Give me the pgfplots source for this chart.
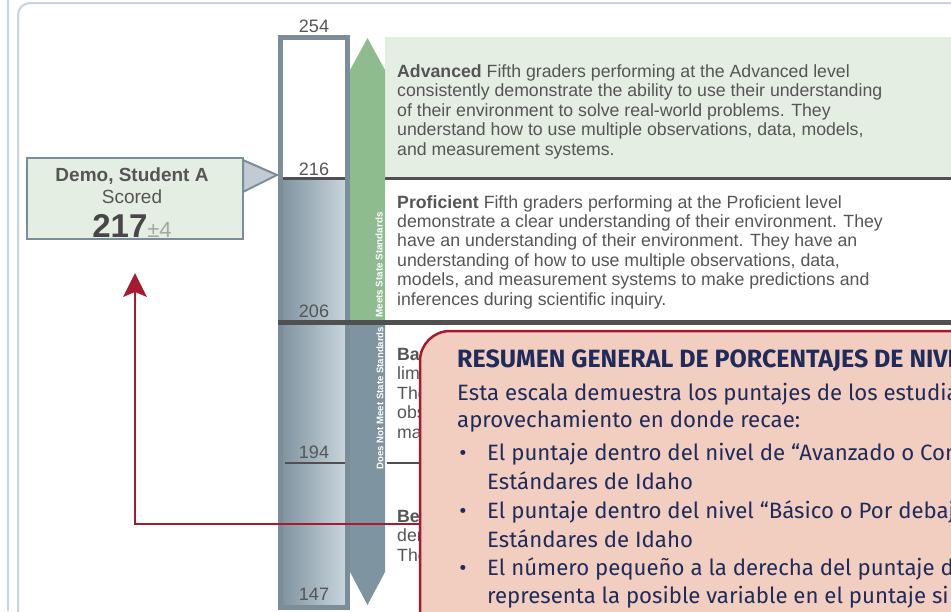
\documentclass[border=0pt]{standalone}
\usepackage{pgfplots}
\pgfplotsset{compat=1.18}
\usepackage{fontspec}
\setmainfont{Liberation Sans}
\newfontfamily\popfont{Fira Sans}
\definecolor{txt}{HTML}{555555}
\definecolor{framec}{HTML}{7B8D99}
\definecolor{advbg}{HTML}{E4EEE2}
\definecolor{arrgreen}{HTML}{8FBC8F}
\definecolor{arrgray}{HTML}{7E94A1}
\definecolor{linec}{HTML}{505050}
\definecolor{popfill}{HTML}{F2CEC0}
\definecolor{popred}{HTML}{A51C30}
\definecolor{navy}{HTML}{1F2B5B}
\definecolor{outerc}{HTML}{C9D3DB}
\definecolor{boxfill}{HTML}{E5EEE3}
\definecolor{tric}{HTML}{C2CAD3}
\definecolor{gradL}{HTML}{7F939F}
\definecolor{gradR}{HTML}{CAD6DE}
\begin{document}
\begin{tikzpicture}
\begin{axis}[scale only axis, width=951pt, height=611pt,
  xmin=0, xmax=951, ymin=0, ymax=611, y dir=reverse, hide axis, clip=false]
% outer frame
\addplot[draw=outerc, line width=2pt] coordinates {(8,0) (8,611)};
\addplot[draw=outerc, line width=2pt, rounded corners=12pt] coordinates {(18,640) (18,3) (990,3)};
% advanced band background
\addplot[fill=advbg, draw=none] coordinates {(385,37) (951,37) (951,178) (385,178)} -- cycle;
% scale bar: white upper part (254-216), shaded lower part (216-147)
\addplot[fill=white, draw=none] coordinates {(281,38) (347,38) (347,178) (281,178)} -- cycle;
\addplot[draw=none, left color=gradL, right color=gradR] coordinates {(281,178) (347,178) (347,606) (281,606)} -- cycle;
% cut lines 216 and 194
\addplot[draw=linec, line width=3pt] coordinates {(283,178) (951,178)};
\addplot[draw=linec, line width=2.2pt] coordinates {(285,463) (345,463)};
\addplot[draw=linec, line width=2.2pt] coordinates {(387,463) (951,463)};
% bar frame
\addplot[draw=framec, line width=5pt] coordinates {(280.5,37.5) (347.5,37.5) (347.5,607.5) (280.5,607.5)} -- cycle;
% arrows
\addplot[fill=arrgreen, draw=none] coordinates {(350,70) (367.5,38) (385,70) (385,322) (350,322)} -- cycle;
\addplot[fill=arrgray, draw=none] coordinates {(350,322) (385,322) (385,572) (367.5,605) (350,572)} -- cycle;
% cut line 206
\addplot[draw=linec, line width=5pt] coordinates {(278,322) (951,322)};
% scale labels
\node[anchor=base, inner sep=0, text=txt, font=\fontsize{18}{18}\selectfont] at (axis cs:314,32) {254};
\node[anchor=base, inner sep=0, text=txt, font=\fontsize{18}{18}\selectfont] at (axis cs:314,175) {216};
\node[anchor=base, inner sep=0, text=txt, font=\fontsize{18}{18}\selectfont] at (axis cs:314,317) {206};
\node[anchor=base, inner sep=0, text=txt, font=\fontsize{18}{18}\selectfont] at (axis cs:314,458) {194};
\node[anchor=base, inner sep=0, text=txt, font=\fontsize{18}{18}\selectfont] at (axis cs:314,600) {147};
% vertical arrow labels
\node[rotate=90, inner sep=0, text=white, font=\fontsize{9.8}{9.8}\selectfont\bfseries] at (axis cs:379,265) {Meets State Standards};
\node[rotate=90, inner sep=0, text=white, font=\fontsize{9.6}{9.6}\selectfont\bfseries] at (axis cs:380,398) {Does Not Meet State Standards};
% band descriptions
\begin{scope}[every node/.style={anchor=base west, inner sep=0, text=txt, font=\fontsize{17.7}{19}\selectfont}]
\node at (axis cs:397,77) {\textbf{Advanced} Fifth graders performing at the Advanced level};
\node at (axis cs:397,96.5) {consistently demonstrate the ability to use their understanding};
\node at (axis cs:397,116) {of their environment to solve real-world problems. They};
\node at (axis cs:397,135.5) {understand how to use multiple observations, data, models,};
\node at (axis cs:397,155) {and measurement systems.};
\node at (axis cs:397,208) {\textbf{Proficient} Fifth graders performing at the Proficient level};
\node at (axis cs:397,227.4) {demonstrate a clear understanding of their environment. They};
\node at (axis cs:397,246.8) {have an understanding of their environment. They have an};
\node at (axis cs:397,266.2) {understanding of how to use multiple observations, data,};
\node at (axis cs:397,285.6) {models, and measurement systems to make predictions and};
\node at (axis cs:397,305) {inferences during scientific inquiry.};
\node at (axis cs:397,360) {\textbf{Bas}};
\node at (axis cs:397,379.5) {limi};
\node at (axis cs:397,399) {They};
\node at (axis cs:397,418.5) {obse};
\node at (axis cs:397,438) {mak};
\node at (axis cs:397,522) {\textbf{Belo}};
\node at (axis cs:397,541.5) {dem};
\node at (axis cs:397,561) {They};
\end{scope}
% student box
\addplot[fill=boxfill, draw=framec, line width=2.5pt] coordinates {(27,158) (243,158) (243,239) (27,239)} -- cycle;
\addplot[fill=tric, draw=framec, line width=2pt] coordinates {(243,160) (277,175) (243,192)} -- cycle;
\node[anchor=base, inner sep=0, text=txt, font=\fontsize{19}{19}\selectfont\bfseries] at (axis cs:132,181) {Demo, Student A};
\node[anchor=base, inner sep=0, text=txt, font=\fontsize{19}{19}\selectfont] at (axis cs:132,203) {Scored};
\node[anchor=base, inner sep=0, text=black!72] at (axis cs:132,237) {{\fontsize{33}{33}\selectfont\bfseries 217}{\fontsize{22}{22}\selectfont\color{black!35}±4}};
% red pointer
\addplot[draw=popred, line width=2.2pt] coordinates {(420,524) (135,524) (135,290)};
\addplot[fill=popred, draw=none] coordinates {(135,273) (147,297) (135,292) (123,297)} -- cycle;
% popup
\addplot[fill=popfill, draw=popred, line width=2.5pt, rounded corners=30pt] coordinates {(420,680) (420,331) (1010,331) (1010,680)} -- cycle;
\begin{scope}[every node/.style={anchor=base west, inner sep=0, text=navy, font=\popfont\fontsize{22.2}{22.2}\selectfont}]
\node[font=\popfont\fontsize{25}{25}\selectfont\bfseries] at (axis cs:457,367) {RESUMEN GENERAL DE PORCENTAJES DE NIVEL};
\node at (axis cs:457,400) {Esta escala demuestra los puntajes de los estudiantes};
\node at (axis cs:457,427) {aprovechamiento en donde recae:};
\node at (axis cs:487,460) {El puntaje dentro del nivel de “Avanzado o Competente”};
\node at (axis cs:487,489) {Estándares de Idaho};
\node at (axis cs:487,518) {El puntaje dentro del nivel “Básico o Por debajo”};
\node at (axis cs:487,547) {Estándares de Idaho};
\node at (axis cs:487,575) {El número pequeño a la derecha del puntaje del};
\node at (axis cs:487,603) {representa la posible variable en el puntaje si};
\node[anchor=base] at (axis cs:463,460) {•};
\node[anchor=base] at (axis cs:463,518) {•};
\node[anchor=base] at (axis cs:463,575) {•};
\end{scope}
\end{axis}
\pgfresetboundingbox
\path[use as bounding box] (current axis.south west) rectangle (current axis.north east);
\end{tikzpicture}
\end{document}
